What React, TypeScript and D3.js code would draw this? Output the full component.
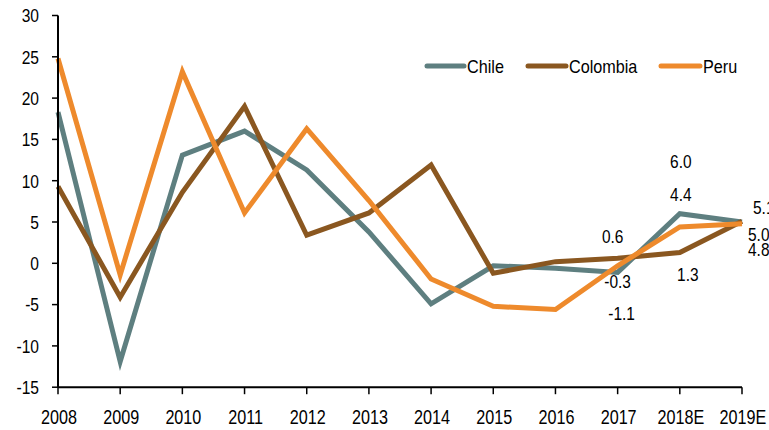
import React from "react";
import * as d3 from "d3";

const years = ["2008", "2009", "2010", "2011", "2012", "2013", "2014", "2015", "2016", "2017", "2018E", "2019E"];
const chile = [18.3, -11.9, 13.1, 16.0, 11.3, 3.8, -4.9, -0.3, -0.6, -1.1, 6.0, 5.0];
const colombia = [9.3, -4.1, 8.6, 19.0, 3.4, 6.1, 11.9, -1.2, 0.2, 0.6, 1.3, 5.1];
const peru = [24.8, -1.4, 23.2, 6.1, 16.3, 7.6, -1.9, -5.2, -5.6, -0.3, 4.4, 4.8];
const yTicks = [-15, -10, -5, 0, 5, 10, 15, 20, 25, 30];

const W = 769;
const H = 430;
const FONT = "'Liberation Sans', Arial, sans-serif";

const series = [
  { name: "Chile", values: chile, color: "#5E7F80" },
  { name: "Colombia", values: colombia, color: "#8A5720" },
  { name: "Peru", values: peru, color: "#EE8A2C" },
];

// value labels: series index, year index, text offset from the point
const callouts = [
  { s: 1, i: 9, dx: -5, dy: -22, anchor: "middle" },
  { s: 2, i: 9, dx: 0, dy: 16, anchor: "middle" },
  { s: 0, i: 9, dx: 4, dy: 41, anchor: "middle" },
  { s: 0, i: 10, dx: 1, dy: -52, anchor: "middle" },
  { s: 2, i: 10, dx: 1, dy: -32, anchor: "middle" },
  { s: 1, i: 10, dx: 8, dy: 22, anchor: "middle" },
  { s: 1, i: 11, dx: 11, dy: -14, anchor: "start" },
  { s: 0, i: 11, dx: 6, dy: 13, anchor: "start" },
  { s: 2, i: 11, dx: 6, dy: 26, anchor: "start" },
];

// horizontally condensed text
function T({
  x,
  y,
  size,
  sx,
  anchor = "start",
  children,
}: {
  x: number;
  y: number;
  size: number;
  sx: number;
  anchor?: string;
  children: React.ReactNode;
}) {
  return (
    <text
      transform={`translate(${x},${y}) scale(${sx},1)`}
      dy="0.36em"
      textAnchor={anchor as any}
      fontSize={size}
      fill="#000"
    >
      {children}
    </text>
  );
}

export default function App() {
  const x = d3.scalePoint<string>().domain(years).range([58, 742]);
  const y = d3.scaleLinear().domain([-15, 30]).range([387.2, 15.5]);
  const line = d3
    .line<number>()
    .x((_, i) => x(years[i]) as number)
    .y((d) => y(d));

  const legend = [
    { s: 0, x1: 427, x2: 464, tx: 467 },
    { s: 1, x1: 528, x2: 566, tx: 569 },
    { s: 2, x1: 661, x2: 700, tx: 703 },
  ];

  return (
    <svg
      width={W}
      height={H}
      style={{ position: "fixed", left: 0, top: 0, background: "#fff" }}
      fontFamily={FONT}
    >
      {/* series lines */}
      {series.map((s) => (
        <path
          key={s.name}
          d={line(s.values) as string}
          fill="none"
          stroke={s.color}
          strokeWidth={5}
          strokeLinejoin="miter"
        />
      ))}

      {/* y axis */}
      <line x1={58} x2={58} y1={y(30)} y2={y(-15)} stroke="#000" strokeWidth={2} />
      {yTicks.map((t) => (
        <g key={t}>
          <line x1={52} x2={58} y1={y(t)} y2={y(t)} stroke="#000" strokeWidth={1.5} />
          <T x={39} y={y(t)} size={19} sx={0.82} anchor="end">
            {t}
          </T>
        </g>
      ))}

      {/* x axis */}
      <line x1={58} x2={742} y1={y(-15)} y2={y(-15)} stroke="#000" strokeWidth={2} />
      {years.map((yr) => (
        <g key={yr}>
          <line x1={x(yr)} x2={x(yr)} y1={y(-15)} y2={y(-15) + 7} stroke="#000" strokeWidth={1.5} />
          <T x={(x(yr) as number) + 1} y={416} size={21} sx={0.77} anchor="middle">
            {yr}
          </T>
        </g>
      ))}

      {/* value labels */}
      {callouts.map((c, k) => {
        const v = series[c.s].values[c.i];
        return (
          <T
            key={k}
            x={(x(years[c.i]) as number) + c.dx}
            y={y(v) + c.dy}
            size={18}
            sx={0.86}
            anchor={c.anchor}
          >
            {v.toFixed(1)}
          </T>
        );
      })}

      {/* legend */}
      {legend.map((l) => (
        <g key={l.s}>
          <line
            x1={l.x1}
            x2={l.x2}
            y1={66}
            y2={66}
            stroke={series[l.s].color}
            strokeWidth={5}
            strokeLinecap="round"
          />
          <T x={l.tx} y={67} size={18} sx={0.9}>
            {series[l.s].name}
          </T>
        </g>
      ))}
    </svg>
  );
}
